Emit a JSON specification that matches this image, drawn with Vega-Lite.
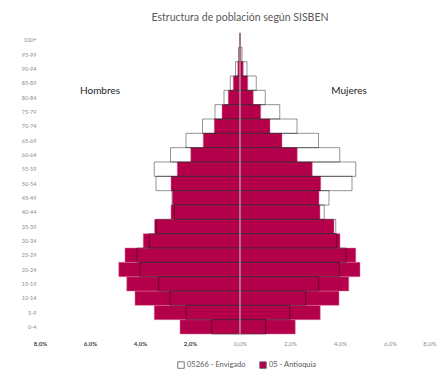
{
  "$schema": "https://vega.github.io/schema/vega-lite/v6.json",
  "autosize": "none",
  "width": 400,
  "height": 301,
  "padding": {"left": 40, "top": 33, "right": 0, "bottom": 45},
  "background": "white",
  "config": {"font": "Lato", "view": {"stroke": null}},
  "title": {"text": "Estructura de población según SISBEN", "fontSize": 10.5, "fontWeight": "normal", "color": "#595959", "offset": 9},
  "datasets": {
    "pop": [
      {"age": "0-4", "sexo": "Hombres", "region": "05266 - Envigado", "pct": -1.13},
      {"age": "0-4", "sexo": "Mujeres", "region": "05266 - Envigado", "pct": 1.03},
      {"age": "0-4", "sexo": "Hombres", "region": "05 - Antioquia", "pct": -2.40},
      {"age": "0-4", "sexo": "Mujeres", "region": "05 - Antioquia", "pct": 2.21},
      {"age": "5-9", "sexo": "Hombres", "region": "05266 - Envigado", "pct": -2.16},
      {"age": "5-9", "sexo": "Mujeres", "region": "05266 - Envigado", "pct": 1.99},
      {"age": "5-9", "sexo": "Hombres", "region": "05 - Antioquia", "pct": -3.43},
      {"age": "5-9", "sexo": "Mujeres", "region": "05 - Antioquia", "pct": 3.21},
      {"age": "10-14", "sexo": "Hombres", "region": "05266 - Envigado", "pct": -2.80},
      {"age": "10-14", "sexo": "Mujeres", "region": "05266 - Envigado", "pct": 2.63},
      {"age": "10-14", "sexo": "Hombres", "region": "05 - Antioquia", "pct": -4.20},
      {"age": "10-14", "sexo": "Mujeres", "region": "05 - Antioquia", "pct": 3.96},
      {"age": "15-19", "sexo": "Hombres", "region": "05266 - Envigado", "pct": -3.25},
      {"age": "15-19", "sexo": "Mujeres", "region": "05266 - Envigado", "pct": 3.15},
      {"age": "15-19", "sexo": "Hombres", "region": "05 - Antioquia", "pct": -4.53},
      {"age": "15-19", "sexo": "Mujeres", "region": "05 - Antioquia", "pct": 4.35},
      {"age": "20-24", "sexo": "Hombres", "region": "05266 - Envigado", "pct": -4.00},
      {"age": "20-24", "sexo": "Mujeres", "region": "05266 - Envigado", "pct": 3.97},
      {"age": "20-24", "sexo": "Hombres", "region": "05 - Antioquia", "pct": -4.85},
      {"age": "20-24", "sexo": "Mujeres", "region": "05 - Antioquia", "pct": 4.80},
      {"age": "25-29", "sexo": "Hombres", "region": "05266 - Envigado", "pct": -4.12},
      {"age": "25-29", "sexo": "Mujeres", "region": "05266 - Envigado", "pct": 4.24},
      {"age": "25-29", "sexo": "Hombres", "region": "05 - Antioquia", "pct": -4.60},
      {"age": "25-29", "sexo": "Mujeres", "region": "05 - Antioquia", "pct": 4.63},
      {"age": "30-34", "sexo": "Hombres", "region": "05266 - Envigado", "pct": -3.63},
      {"age": "30-34", "sexo": "Mujeres", "region": "05266 - Envigado", "pct": 3.87},
      {"age": "30-34", "sexo": "Hombres", "region": "05 - Antioquia", "pct": -3.87},
      {"age": "30-34", "sexo": "Mujeres", "region": "05 - Antioquia", "pct": 4.00},
      {"age": "35-39", "sexo": "Hombres", "region": "05266 - Envigado", "pct": -3.35},
      {"age": "35-39", "sexo": "Mujeres", "region": "05266 - Envigado", "pct": 3.83},
      {"age": "35-39", "sexo": "Hombres", "region": "05 - Antioquia", "pct": -3.42},
      {"age": "35-39", "sexo": "Mujeres", "region": "05 - Antioquia", "pct": 3.76},
      {"age": "40-44", "sexo": "Hombres", "region": "05266 - Envigado", "pct": -2.63},
      {"age": "40-44", "sexo": "Mujeres", "region": "05266 - Envigado", "pct": 3.37},
      {"age": "40-44", "sexo": "Hombres", "region": "05 - Antioquia", "pct": -2.76},
      {"age": "40-44", "sexo": "Mujeres", "region": "05 - Antioquia", "pct": 3.20},
      {"age": "45-49", "sexo": "Hombres", "region": "05266 - Envigado", "pct": -2.72},
      {"age": "45-49", "sexo": "Mujeres", "region": "05266 - Envigado", "pct": 3.56},
      {"age": "45-49", "sexo": "Hombres", "region": "05 - Antioquia", "pct": -2.70},
      {"age": "45-49", "sexo": "Mujeres", "region": "05 - Antioquia", "pct": 3.16},
      {"age": "50-54", "sexo": "Hombres", "region": "05266 - Envigado", "pct": -3.36},
      {"age": "50-54", "sexo": "Mujeres", "region": "05266 - Envigado", "pct": 4.48},
      {"age": "50-54", "sexo": "Hombres", "region": "05 - Antioquia", "pct": -2.76},
      {"age": "50-54", "sexo": "Mujeres", "region": "05 - Antioquia", "pct": 3.23},
      {"age": "55-59", "sexo": "Hombres", "region": "05266 - Envigado", "pct": -3.43},
      {"age": "55-59", "sexo": "Mujeres", "region": "05266 - Envigado", "pct": 4.63},
      {"age": "55-59", "sexo": "Hombres", "region": "05 - Antioquia", "pct": -2.51},
      {"age": "55-59", "sexo": "Mujeres", "region": "05 - Antioquia", "pct": 2.89},
      {"age": "60-64", "sexo": "Hombres", "region": "05266 - Envigado", "pct": -2.78},
      {"age": "60-64", "sexo": "Mujeres", "region": "05266 - Envigado", "pct": 3.99},
      {"age": "60-64", "sexo": "Hombres", "region": "05 - Antioquia", "pct": -1.97},
      {"age": "60-64", "sexo": "Mujeres", "region": "05 - Antioquia", "pct": 2.29},
      {"age": "65-69", "sexo": "Hombres", "region": "05266 - Envigado", "pct": -2.16},
      {"age": "65-69", "sexo": "Mujeres", "region": "05266 - Envigado", "pct": 3.14},
      {"age": "65-69", "sexo": "Hombres", "region": "05 - Antioquia", "pct": -1.47},
      {"age": "65-69", "sexo": "Mujeres", "region": "05 - Antioquia", "pct": 1.68},
      {"age": "70-74", "sexo": "Hombres", "region": "05266 - Envigado", "pct": -1.50},
      {"age": "70-74", "sexo": "Mujeres", "region": "05266 - Envigado", "pct": 2.28},
      {"age": "70-74", "sexo": "Hombres", "region": "05 - Antioquia", "pct": -1.03},
      {"age": "70-74", "sexo": "Mujeres", "region": "05 - Antioquia", "pct": 1.20},
      {"age": "75-79", "sexo": "Hombres", "region": "05266 - Envigado", "pct": -1.00},
      {"age": "75-79", "sexo": "Mujeres", "region": "05266 - Envigado", "pct": 1.59},
      {"age": "75-79", "sexo": "Hombres", "region": "05 - Antioquia", "pct": -0.72},
      {"age": "75-79", "sexo": "Mujeres", "region": "05 - Antioquia", "pct": 0.83},
      {"age": "80-84", "sexo": "Hombres", "region": "05266 - Envigado", "pct": -0.64},
      {"age": "80-84", "sexo": "Mujeres", "region": "05266 - Envigado", "pct": 1.01},
      {"age": "80-84", "sexo": "Hombres", "region": "05 - Antioquia", "pct": -0.47},
      {"age": "80-84", "sexo": "Mujeres", "region": "05 - Antioquia", "pct": 0.53},
      {"age": "85-89", "sexo": "Hombres", "region": "05266 - Envigado", "pct": -0.39},
      {"age": "85-89", "sexo": "Mujeres", "region": "05266 - Envigado", "pct": 0.65},
      {"age": "85-89", "sexo": "Hombres", "region": "05 - Antioquia", "pct": -0.27},
      {"age": "85-89", "sexo": "Mujeres", "region": "05 - Antioquia", "pct": 0.31},
      {"age": "90-94", "sexo": "Hombres", "region": "05266 - Envigado", "pct": -0.18},
      {"age": "90-94", "sexo": "Mujeres", "region": "05266 - Envigado", "pct": 0.28},
      {"age": "90-94", "sexo": "Hombres", "region": "05 - Antioquia", "pct": -0.09},
      {"age": "90-94", "sexo": "Mujeres", "region": "05 - Antioquia", "pct": 0.13},
      {"age": "95-99", "sexo": "Hombres", "region": "05266 - Envigado", "pct": -0.06},
      {"age": "95-99", "sexo": "Mujeres", "region": "05266 - Envigado", "pct": 0.08},
      {"age": "95-99", "sexo": "Hombres", "region": "05 - Antioquia", "pct": -0.04},
      {"age": "95-99", "sexo": "Mujeres", "region": "05 - Antioquia", "pct": 0.04},
      {"age": "100+", "sexo": "Hombres", "region": "05266 - Envigado", "pct": -0.02},
      {"age": "100+", "sexo": "Mujeres", "region": "05266 - Envigado", "pct": 0.02},
      {"age": "100+", "sexo": "Hombres", "region": "05 - Antioquia", "pct": -0.01},
      {"age": "100+", "sexo": "Mujeres", "region": "05 - Antioquia", "pct": 0.01}
    ],
    "labels": [
      {"label": "Hombres", "pct": -5.6, "age": "80-84"},
      {"label": "Mujeres", "pct": 4.36, "age": "80-84"}
    ]
  },
  "layer": [
    {
      "data": {"name": "pop"},
      "transform": [{"filter": "datum.region == '05 - Antioquia'"}],
      "mark": {"type": "bar", "stroke": "#d9709a", "strokeWidth": 0.5},
      "encoding": {
        "y": {"field": "age", "type": "nominal",
          "scale": {"domain": ["100+","95-99","90-94","85-89","80-84","75-79","70-74","65-69","60-64","55-59","50-54","45-49","40-44","35-39","30-34","25-29","20-24","15-19","10-14","5-9","0-4"], "paddingInner": 0, "paddingOuter": 0},
          "axis": {"title": null, "ticks": false, "domain": false, "labelFontSize": 5.5, "labelColor": "#8c8c8c", "labelPadding": 4}},
        "x": {"field": "pct", "type": "quantitative", "stack": null,
          "scale": {"domain": [-8, 8], "nice": false},
          "axis": {"title": null, "values": [-8,-6,-4,-2,0,2,4,6,8], "grid": false, "ticks": false, "domain": false, "labelFontSize": 6, "labelPadding": 6,
            "labelExpr": "replace(format(abs(datum.value), '.1f'), '.', ',') + '%'",
            "labelAlign": {"expr": "datum.value == 8 ? 'right' : 'center'"},
            "labelOffset": {"expr": "datum.value == 8 ? -4 : 0"},
            "labelColor": {"expr": "datum.value < 0 ? '#404040' : '#8c8c8c'"},
            "labelFontWeight": {"expr": "datum.value < 0 ? 'bold' : 'normal'"}}},
        "color": {"field": "region", "type": "nominal",
          "scale": {"domain": ["05266 - Envigado", "05 - Antioquia"], "range": ["#ffffff", "#b4004b"]},
          "legend": {"title": null, "orient": "none", "legendX": 137, "legendY": 328, "direction": "horizontal", "symbolType": "square", "symbolSize": 42, "symbolStrokeColor": "#555555", "symbolStrokeWidth": 0.8, "labelFontSize": 7.5, "labelColor": "#595959", "columnPadding": 12, "labelOffset": 2, "labelLimit": 200}}
      }
    },
    {
      "data": {"name": "pop"},
      "transform": [{"filter": "datum.region == '05266 - Envigado'"}],
      "mark": {"type": "bar", "fillOpacity": 0, "fill": "#ffffff", "stroke": "#000000", "strokeOpacity": 0.42, "strokeWidth": 1},
      "encoding": {
        "y": {"field": "age", "type": "nominal",
          "scale": {"domain": ["100+","95-99","90-94","85-89","80-84","75-79","70-74","65-69","60-64","55-59","50-54","45-49","40-44","35-39","30-34","25-29","20-24","15-19","10-14","5-9","0-4"]}},
        "x": {"field": "pct", "type": "quantitative", "stack": null}
      }
    },
    {
      "data": {"values": [{}]},
      "mark": {"type": "rule", "color": "#e8c6d3", "strokeWidth": 1},
      "encoding": {"x": {"datum": 0}}
    },
    {
      "data": {"name": "labels"},
      "mark": {"type": "text", "dy": -6.5, "fontSize": 10, "color": "#222222"},
      "encoding": {
        "x": {"field": "pct", "type": "quantitative"},
        "y": {"field": "age", "type": "nominal",
          "scale": {"domain": ["100+","95-99","90-94","85-89","80-84","75-79","70-74","65-69","60-64","55-59","50-54","45-49","40-44","35-39","30-34","25-29","20-24","15-19","10-14","5-9","0-4"]}},
        "text": {"field": "label"}
      }
    }
  ]
}
